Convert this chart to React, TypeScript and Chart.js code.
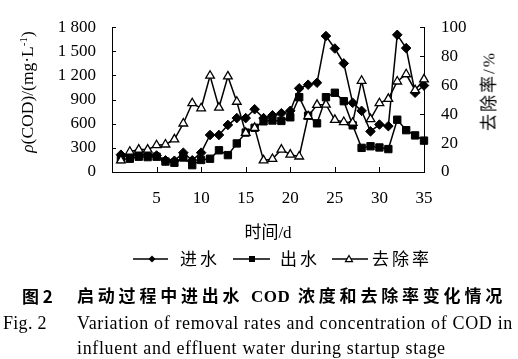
import React, { useEffect, useRef } from "react";
import { Chart, registerables } from "chart.js";

Chart.register(...registerables);

const days = [1, 2, 3, 4, 5, 6, 7, 8, 9, 10, 11, 12, 13, 14, 15, 16, 17, 18, 19, 20, 21, 22, 23, 24, 25, 26, 27, 28, 29, 30, 31, 32, 33, 34, 35];
const influent = [215, 200, 220, 215, 205, 145, 140, 240, 145, 240, 460, 460, 585, 670, 670, 780, 670, 705, 730, 760, 1040, 1085, 1110, 1690, 1535, 1350, 860, 760, 505, 590, 570, 1705, 1540, 985, 1075];
const effluent = [160, 165, 190, 185, 190, 130, 115, 180, 85, 150, 165, 270, 210, 355, 490, 550, 630, 640, 635, 680, 930, 700, 605, 930, 985, 880, 580, 300, 320, 305, 285, 650, 520, 455, 390];
const removal = [8, 14, 15.5, 15.5, 18.5, 19, 22.5, 33.5, 47.5, 44, 66.5, 44.5, 66, 48.5, 27, 30.5, 8, 9, 15.5, 12, 10.7, 38.5, 46.4, 46.5, 36, 34.5, 34, 63, 36.5, 47.5, 50.5, 62.5, 67.5, 56.5, 64];

const xTicks = [5, 10, 15, 20, 25, 30, 35];
const leftTicks = [0, 300, 600, 900, 1200, 1500, 1800];
const leftTickLabels = ["0", "300", "600", "900", "1 200", "1 500", "1 800"];
const rightTicks = [0, 20, 40, 60, 80, 100];
const rightTickLabels = ["0", "20", "40", "60", "80", "100"];

const seriesNames = ["进水", "出水", "去除率"];

const SERIF = '"Liberation Serif", "Noto Sans CJK SC", serif';
const CJK = '"Noto Sans CJK SC", "Liberation Serif", sans-serif';

function drawMarker(ctx: CanvasRenderingContext2D, style: string, x: number, y: number, r: number) {
  ctx.save();
  ctx.lineWidth = 1.2;
  ctx.strokeStyle = "#000";
  ctx.beginPath();
  if (style === "diamond") {
    ctx.moveTo(x, y - r);
    ctx.lineTo(x + r, y);
    ctx.lineTo(x, y + r);
    ctx.lineTo(x - r, y);
    ctx.closePath();
    ctx.fillStyle = "#000";
    ctx.fill();
  } else if (style === "square") {
    ctx.rect(x - r, y - r, 2 * r, 2 * r);
    ctx.fillStyle = "#000";
    ctx.fill();
  } else {
    ctx.moveTo(x, y - r);
    ctx.lineTo(x + r, y + r * 0.75);
    ctx.lineTo(x - r, y + r * 0.75);
    ctx.closePath();
    ctx.fillStyle = "#fff";
    ctx.fill();
    ctx.stroke();
  }
  ctx.restore();
}

const decorPlugin = {
  id: "decor",
  afterDraw(chart: any) {
    const ctx: CanvasRenderingContext2D = chart.ctx;
    const { left, right, bottom } = chart.chartArea;
    const xs = chart.scales.x;
    const yl = chart.scales.y;
    const yr = chart.scales.y1;
    ctx.save();
    ctx.strokeStyle = "#000";
    ctx.lineWidth = 1;
    ctx.beginPath();
    xTicks.forEach((v) => {
      const px = Math.round(xs.getPixelForValue(v)) + 0.5;
      ctx.moveTo(px, bottom);
      ctx.lineTo(px, bottom - 5);
    });
    leftTicks.forEach((v) => {
      const py = Math.round(yl.getPixelForValue(v)) + 0.5;
      ctx.moveTo(left, py);
      ctx.lineTo(left + 4, py);
    });
    rightTicks.forEach((v) => {
      const py = Math.round(yr.getPixelForValue(v)) + 0.5;
      ctx.moveTo(right, py);
      ctx.lineTo(right - 4, py);
    });
    ctx.stroke();

    // legend symbols
    const ly = 259;
    const segs = [
      { x0: 133, x1: 168, m: 152, s: "diamond", r: 3.5 },
      { x0: 233, x1: 270, m: 252, s: "square", r: 3 },
      { x0: 332, x1: 368, m: 349, s: "triangle", r: 3.5 },
    ];
    ctx.lineWidth = 1.5;
    segs.forEach((g) => {
      ctx.beginPath();
      ctx.moveTo(g.x0, ly);
      ctx.lineTo(g.x1, ly);
      ctx.stroke();
      drawMarker(ctx, g.s, g.m, ly, g.r);
    });
    ctx.restore();
  },
};

export default function App() {
  const ref = useRef<HTMLCanvasElement | null>(null);
  useEffect(() => {
    if (!ref.current) return;
    const tickFont = { family: SERIF, size: 17 };
    const chart = new Chart(ref.current, {
      type: "line",
      data: {
        datasets: [
          {
            label: seriesNames[0],
            data: days.map((d, i) => ({ x: d, y: influent[i] })),
            yAxisID: "y",
            borderColor: "#000",
            borderWidth: 1.5,
            pointStyle: "rectRot",
            pointRadius: 4.8,
            pointBackgroundColor: "#000",
            pointBorderColor: "#000",
            pointBorderWidth: 1,
            tension: 0,
            clip: false,
            order: 2,
          },
          {
            label: seriesNames[1],
            data: days.map((d, i) => ({ x: d, y: effluent[i] })),
            yAxisID: "y",
            borderColor: "#000",
            borderWidth: 1.5,
            pointStyle: "rect",
            pointRadius: 5.2,
            pointBackgroundColor: "#000",
            pointBorderColor: "#000",
            pointBorderWidth: 1,
            tension: 0,
            clip: false,
            order: 3,
          },
          {
            label: seriesNames[2],
            data: days.map((d, i) => ({ x: d, y: removal[i] })),
            yAxisID: "y1",
            borderColor: "#000",
            borderWidth: 1.5,
            pointStyle: "triangle",
            pointRadius: 5,
            pointBackgroundColor: "#fff",
            pointBorderColor: "#000",
            pointBorderWidth: 1.3,
            tension: 0,
            clip: false,
            order: 1,
          },
        ],
      },
      options: {
        animation: false,
        responsive: false,
        devicePixelRatio: 1,
        layout: { padding: { top: 10, bottom: 147, left: 0, right: 0 } },
        plugins: { legend: { display: false }, tooltip: { enabled: false } },
        scales: {
          x: {
            type: "linear",
            min: 0,
            max: 35,
            afterBuildTicks: (s: any) => {
              s.ticks = xTicks.map((v) => ({ value: v }));
            },
            afterFit: (s: any) => {
              s.height = 40;
            },
            ticks: { autoSkip: false, maxRotation: 0, padding: 16, color: "#000", font: tickFont },
            grid: { display: false, drawTicks: false },
            border: { display: true, color: "#000", width: 1 },
          },
          y: {
            position: "left",
            min: 0,
            max: 1800,
            afterBuildTicks: (s: any) => {
              s.ticks = leftTicks.map((v) => ({ value: v }));
            },
            afterFit: (s: any) => {
              s.width = 112;
            },
            ticks: {
              padding: 16,
              color: "#000",
              font: tickFont,
              callback: (v: any) => leftTickLabels[leftTicks.indexOf(Number(v))],
            },
            grid: { display: false, drawTicks: false },
            border: { display: true, color: "#000", width: 1 },
          },
          y1: {
            position: "right",
            min: 0,
            max: 100,
            afterBuildTicks: (s: any) => {
              s.ticks = rightTicks.map((v) => ({ value: v }));
            },
            afterFit: (s: any) => {
              s.width = 94;
            },
            ticks: {
              padding: 17,
              color: "#000",
              font: tickFont,
              callback: (v: any) => rightTickLabels[rightTicks.indexOf(Number(v))],
            },
            grid: { display: false, drawTicks: false },
            border: { display: true, color: "#000", width: 1 },
          },
        },
      },
      plugins: [decorPlugin],
    } as any);
    return () => chart.destroy();
  }, []);

  const abs: React.CSSProperties = { position: "absolute", whiteSpace: "nowrap", color: "#000", lineHeight: 1 };
  const eng: React.CSSProperties = { ...abs, transform: "translateY(-50%)", fontFamily: SERIF, fontSize: 18, letterSpacing: 0.65 };

  return (
    <div style={{ position: "fixed", left: 0, top: 0, width: 518, height: 359, background: "#fff", overflow: "hidden" }}>
      <canvas ref={ref} width={518} height={359} style={{ position: "absolute", left: 0, top: 0, width: 518, height: 359 }} />
      <div style={{ ...abs, left: 28, top: 92, transform: "translate(-50%, -50%) rotate(-90deg)", fontFamily: SERIF, fontSize: 17.5 }}>
        <i>ρ</i>(COD)/(mg·L<sup style={{ fontSize: 11, verticalAlign: "6px", lineHeight: 0 }}>-1</sup>)
      </div>
      <div style={{ ...abs, left: 489, top: 91, transform: "translate(-50%, -50%) rotate(-90deg)", fontFamily: SERIF, fontSize: 17, letterSpacing: 2 }}>
        去除率/%
      </div>
      <div style={{ ...abs, left: 268, top: 232, transform: "translate(-50%, -50%)", fontFamily: SERIF, fontSize: 17 }}>
        时间/d
      </div>
      <div style={{ ...abs, left: 180, top: 259, transform: "translateY(-50%)", fontFamily: SERIF, fontSize: 17, letterSpacing: 3 }}>{seriesNames[0]}</div>
      <div style={{ ...abs, left: 280, top: 259, transform: "translateY(-50%)", fontFamily: SERIF, fontSize: 17, letterSpacing: 3 }}>{seriesNames[1]}</div>
      <div style={{ ...abs, left: 372, top: 259, transform: "translateY(-50%)", fontFamily: SERIF, fontSize: 17, letterSpacing: 3 }}>{seriesNames[2]}</div>
      <div style={{ ...abs, left: 22, top: 295, transform: "translateY(-50%)", fontFamily: CJK, fontSize: 17, fontWeight: 700 }}>
        图 2
      </div>
      <div style={{ ...abs, left: 77, top: 295, transform: "translateY(-50%)", fontFamily: CJK, fontSize: 17, fontWeight: 700, letterSpacing: 3.8 }}>
        启动过程中进出水 <span style={{ fontFamily: SERIF, letterSpacing: 0.5 }}>COD</span> 浓度和去除率变化情况
      </div>
      <div style={{ ...eng, left: 3, top: 323, letterSpacing: 0.3 }}>Fig. 2</div>
      <div style={{ ...eng, left: 77, top: 323 }}>Variation of removal rates and concentration of COD in</div>
      <div style={{ ...eng, left: 77, top: 348 }}>influent and effluent water during startup stage</div>
    </div>
  );
}
